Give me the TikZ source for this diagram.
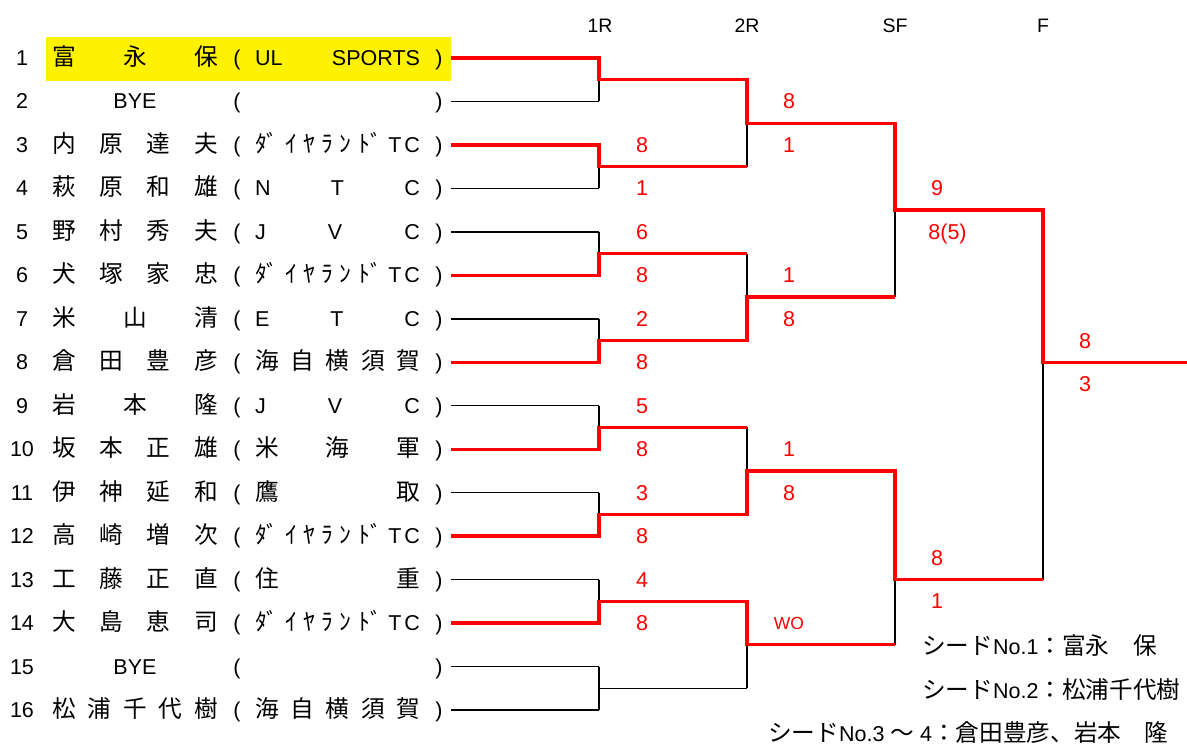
\documentclass[tikz,border=0pt]{standalone}
\usepackage{fontspec}
\setmainfont{Liberation Sans}
\newfontfamily\jp[Scale=1.1]{Noto Sans CJK JP}
\tikzset{
  base/.style={inner sep=0pt, anchor=base, font=\fontsize{21.5}{25}\selectfont},
  hdr/.style={inner sep=0pt, anchor=base, font=\fontsize{19.5}{23}\selectfont},
  score/.style={base, text=red},
  seed/.style={base, anchor=base west},
  bl/.style={draw=black, line width=1.5pt},
  rd/.style={draw=red, line width=3.3pt},
}
\newcommand\prow[3]{%
  \node[base] (n#1) at (22,{58+43.467*(#1-1)+7.5}) {#1};
  \node[base] (nm#1) at (135,{58+43.467*(#1-1)+7.5}) {#2};
  \node[base] (lp#1) at (237,{58+43.467*(#1-1)+7.5}) {(};
  \node[base] (tm#1) at (337.5,{58+43.467*(#1-1)+7.5}) {#3};
  \node[base] (rp#1) at (439,{58+43.467*(#1-1)+7.5}) {)};
}
\newcommand\nmbox[1]{{\jp\makebox[166pt][s]{#1}}}
\newcommand\tmbox[1]{\makebox[165pt][s]{#1}}
\newcommand\dtc{\tmbox{\jp ﾀﾞ\hfill ｲ\hfill ﾔ\hfill ﾗ\hfill ﾝ\hfill ﾄﾞ\hfill\rmfamily T\hspace{3pt}C}}
\newcommand\scr[3]{\node[score] (s#1) at #2 {#3};}
\begin{document}
\begin{tikzpicture}[x=1pt,y=-1pt]
\useasboundingbox (0,0) rectangle (1187,745);
\fill[yellow] (46,37) rectangle (451,81);
% headers
\node[hdr] (h1) at (600,32) {1R};
\node[hdr] (h2) at (747,32) {2R};
\node[hdr] (h3) at (895,32) {SF};
\node[hdr] (h4) at (1043,32) {F};
% rows
\prow{1}{\nmbox{富\hfill 永\hfill 保}}{\tmbox{UL\hfill SPORTS}}
\prow{2}{BYE}{}
\prow{3}{\nmbox{内\hfill 原\hfill 達\hfill 夫}}{\dtc}
\prow{4}{\nmbox{萩\hfill 原\hfill 和\hfill 雄}}{\tmbox{N\hfill T\hfill C}}
\prow{5}{\nmbox{野\hfill 村\hfill 秀\hfill 夫}}{\tmbox{J\hfill V\hfill C}}
\prow{6}{\nmbox{犬\hfill 塚\hfill 家\hfill 忠}}{\dtc}
\prow{7}{\nmbox{米\hfill 山\hfill 清}}{\tmbox{E\hfill T\hfill C}}
\prow{8}{\nmbox{倉\hfill 田\hfill 豊\hfill 彦}}{\tmbox{\jp 海\hfill 自\hfill 横\hfill 須\hfill 賀}}
\prow{9}{\nmbox{岩\hfill 本\hfill 隆}}{\tmbox{J\hfill V\hfill C}}
\prow{10}{\nmbox{坂\hfill 本\hfill 正\hfill 雄}}{\tmbox{\jp 米\hfill 海\hfill 軍}}
\prow{11}{\nmbox{伊\hfill 神\hfill 延\hfill 和}}{\tmbox{\jp 鷹\hfill 取}}
\prow{12}{\nmbox{高\hfill 崎\hfill 増\hfill 次}}{\dtc}
\prow{13}{\nmbox{工\hfill 藤\hfill 正\hfill 直}}{\tmbox{\jp 住\hfill 重}}
\prow{14}{\nmbox{大\hfill 島\hfill 恵\hfill 司}}{\dtc}
\prow{15}{BYE}{}
\prow{16}{\nmbox{松\hfill 浦\hfill 千\hfill 代\hfill 樹}}{\tmbox{\jp 海\hfill 自\hfill 横\hfill 須\hfill 賀}}
% coordinates
\foreach \i in {1,...,16} {
  \coordinate (p\i) at (451,{58+43.467*(\i-1)});
  \coordinate (q\i) at (599,{58+43.467*(\i-1)});
}
\foreach \k in {1,...,8} {
  \coordinate (a\k) at (599,{58+43.467*(2*\k-1.5)});
  \coordinate (b\k) at (747,{58+43.467*(2*\k-1.5)});
}
\foreach \k in {1,...,4} {
  \coordinate (c\k) at (747,{58+43.467*(4*\k-2.5)});
  \coordinate (d\k) at (895,{58+43.467*(4*\k-2.5)});
}
\coordinate (e1) at (895,{58+43.467*3.5});
\coordinate (f1) at (1043,{58+43.467*3.5});
\coordinate (e2) at (895,{58+43.467*12});
\coordinate (f2) at (1043,{58+43.467*12});
\coordinate (g) at (1043,{58+43.467*7});
\coordinate (h) at (1187,{58+43.467*7});
% black lines
\foreach \i in {2,4,5,7,9,11,13,15,16} { \draw[bl] (p\i) -- (q\i); }
\draw[bl] (a1) -- (q2);
\draw[bl] (a2) -- (q4);
\draw[bl] (q5) -- (a3);
\draw[bl] (q7) -- (a4);
\draw[bl] (q9) -- (a5);
\draw[bl] (q11) -- (a6);
\draw[bl] (q13) -- (a7);
\draw[bl] (q15) -- (q16);
\draw[bl] (a8) -- (b8);
\draw[bl] (c1) -- (b2);
\draw[bl] (b3) -- (c2);
\draw[bl] (b5) -- (c3);
\draw[bl] (c4) -- (b8);
\draw[bl] (e1) -- (d2);
\draw[bl] (e2) -- (d4);
\draw[bl] (g) -- (f2);
% red lines
\draw[rd] (p1) -- (q1) -- (a1) -- (b1) -- (c1) -- (d1) -- (e1) -- (f1) -- (g) -- (h);
\draw[rd] (p3) -- (q3) -- (a2) -- (b2);
\draw[rd] (p6) -- (q6) -- (a3) -- (b3);
\draw[rd] (p8) -- (q8) -- (a4) -- (b4) -- (c2) -- (d2);
\draw[rd] (p10) -- (q10) -- (a5) -- (b5);
\draw[rd] (p12) -- (q12) -- (a6) -- (b6) -- (c3) -- (d3) -- (e2) -- (f2);
\draw[rd] (p14) -- (q14) -- (a7) -- (b7) -- (c4) -- (d4);
% scores 1R
\scr{a}{(642,{58+43.467*2+7.5})}{8}
\scr{b}{(642,{58+43.467*3+7.5})}{1}
\scr{c}{(642,{58+43.467*4+7.5})}{6}
\scr{d}{(642,{58+43.467*5+7.5})}{8}
\scr{e}{(642,{58+43.467*6+7.5})}{2}
\scr{f}{(642,{58+43.467*7+7.5})}{8}
\scr{g}{(642,{58+43.467*8+7.5})}{5}
\scr{h}{(642,{58+43.467*9+7.5})}{8}
\scr{i}{(642,{58+43.467*10+7.5})}{3}
\scr{j}{(642,{58+43.467*11+7.5})}{8}
\scr{k}{(642,{58+43.467*12+7.5})}{4}
\scr{l}{(642,{58+43.467*13+7.5})}{8}
% scores 2R
\scr{m}{(789,{58+43.467*1+7.5})}{8}
\scr{n}{(789,{58+43.467*2+7.5})}{1}
\scr{o}{(789,{58+43.467*5+7.5})}{1}
\scr{p}{(789,{58+43.467*6+7.5})}{8}
\scr{q}{(789,{58+43.467*9+7.5})}{1}
\scr{r}{(789,{58+43.467*10+7.5})}{8}
\node[score, font=\fontsize{17.5}{20}\selectfont] (sWO) at (789,{58+43.467*13+6.5}) {WO};
% scores SF
\scr{s}{(937,{58+43.467*3+7.5})}{9}
\scr{t}{(947.5,{58+43.467*4+7.5})}{8(5)}
\scr{u}{(937,{58+43.467*11.5+7.5})}{8}
\scr{v}{(937,{58+43.467*12.5+7.5})}{1}
% scores F
\scr{w}{(1085,{58+43.467*6.5+7.5})}{8}
\scr{x}{(1085,{58+43.467*7.5+7.5})}{3}
% seeds
\node[seed] (seed1) at (922,654) {{\jp シード}No.1{\jp ：富永　保}};
\node[seed] (seed2) at (922,698) {{\jp シード}No.2{\jp ：松浦千代樹}};
\node[seed] (seed3) at (768,741) {{\jp シード}No.3 {\jp ～} 4{\jp ：倉田豊彦、岩本　隆}};
\end{tikzpicture}
\end{document}
